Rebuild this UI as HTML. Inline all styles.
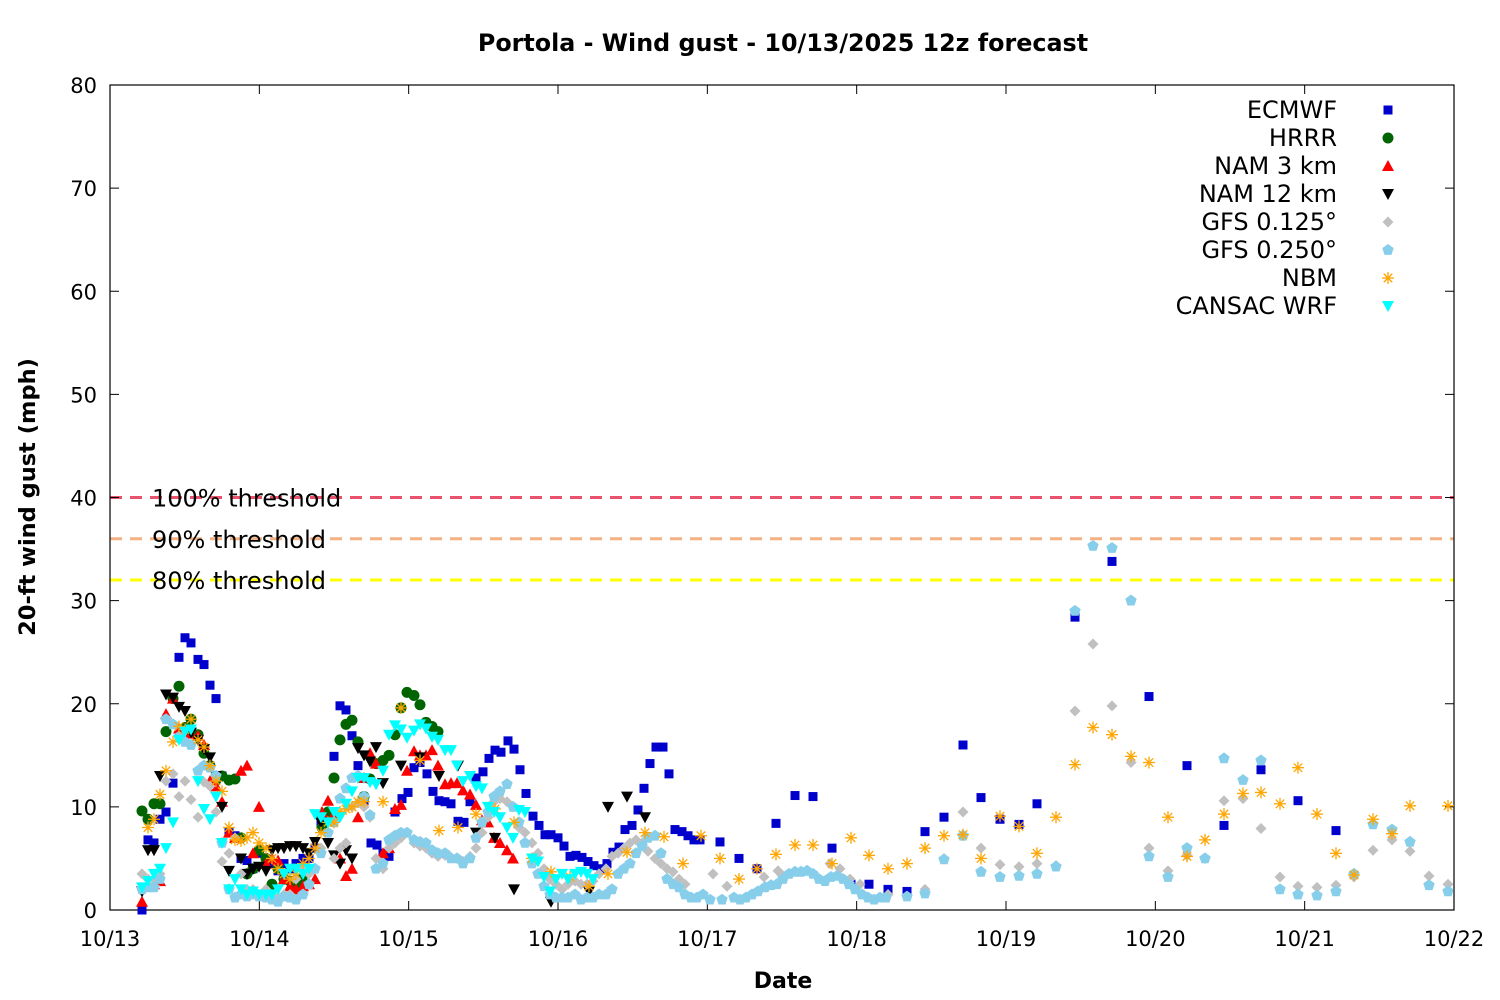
<!DOCTYPE html>
<html><head><meta charset="utf-8"><style>
html,body{margin:0;padding:0;background:#fff;}
svg{display:block;font-family:"Liberation Sans","DejaVu Sans",sans-serif;}
</style></head><body>
<svg id="s" width="1500" height="1000" xmlns="http://www.w3.org/2000/svg">
<rect width="1500" height="1000" fill="#fff"/>
<text x="783" y="51" text-anchor="middle" font-size="23.8" font-weight="bold" font-family="DejaVu Sans, sans-serif">Portola - Wind gust - 10/13/2025 12z forecast</text>
<text transform="translate(35,497) rotate(-90)" text-anchor="middle" font-size="22.5" font-weight="bold" font-family="DejaVu Sans, sans-serif">20-ft wind gust (mph)</text>
<text x="783" y="988" text-anchor="middle" font-size="22" font-weight="bold" font-family="DejaVu Sans, sans-serif">Date</text>
<g id="g"></g>
</svg>
<script>
const NS="http://www.w3.org/2000/svg",g=document.getElementById('g');
function el(t,a,txt){const e=document.createElementNS(NS,t);for(const k in a)e.setAttribute(k,a[k]);if(txt!==undefined)e.textContent=txt;g.appendChild(e);return e;}
const X0=110,X1=1454,Y0=910,Y1=85;const Y=v=>Y0-v*(Y0-Y1)/80;
[[40,'#e8536b'],[36,'#f4b183'],[32,'#ffff00']].forEach(([v,c])=>el('line',{x1:X0,x2:X1,y1:Y(v),y2:Y(v),stroke:c,'stroke-width':3,'stroke-dasharray':'12,8'}));
[['100% threshold',40],['90% threshold',36],['80% threshold',32]].forEach(([t,v])=>el('text',{x:152,y:Y(v)+9,'font-size':24,'font-family':'DejaVu Sans, sans-serif'},t));
el('rect',{x:X0,y:Y1,width:X1-X0,height:Y0-Y1,fill:'none',stroke:'#000','stroke-width':1.2});
for(let v=0;v<=80;v+=10){const y=Y(v);el('line',{x1:X0,x2:X0+9,y1:y,y2:y,stroke:'#000'});el('line',{x1:X1,x2:X1-9,y1:y,y2:y,stroke:'#000'});
el('text',{x:97,y:y+8,'text-anchor':'end','font-size':21,'font-family':'DejaVu Sans, sans-serif'},v);}
const days=['10/13','10/14','10/15','10/16','10/17','10/18','10/19','10/20','10/21','10/22'];
days.forEach((d,i)=>{const x=X0+i*(X1-X0)/9;el('line',{x1:x,x2:x,y1:Y0,y2:Y0-9,stroke:'#000'});el('line',{x1:x,x2:x,y1:Y1,y2:Y1+9,stroke:'#000'});
el('text',{x:x,y:946,'text-anchor':'middle','font-size':21,'font-family':'DejaVu Sans, sans-serif'},d);});
function mk(type,c,x,y){
 if(type=='sq')el('rect',{x:x-4.5,y:y-4.5,width:9,height:9,fill:c});
 else if(type=='ci')el('circle',{cx:x,cy:y,r:5.5,fill:c});
 else if(type=='up')el('polygon',{points:`${x},${y-6} ${x-6},${y+5} ${x+6},${y+5}`,fill:c});
 else if(type=='dn')el('polygon',{points:`${x},${y+6} ${x-6},${y-5} ${x+6},${y-5}`,fill:c});
 else if(type=='di')el('polygon',{points:`${x},${y-5.5} ${x+5.5},${y} ${x},${y+5.5} ${x-5.5},${y}`,fill:c});
 else if(type=='pe'){let p=[];for(let i=0;i<5;i++){const a=-Math.PI/2+i*2*Math.PI/5;p.push((x+6*Math.cos(a)).toFixed(1)+','+(y+6*Math.sin(a)).toFixed(1));}el('polygon',{points:p.join(' '),fill:c});}
 else if(type=='as'){for(let i=0;i<4;i++){const a=i*Math.PI/4;el('line',{x1:x-6*Math.cos(a),y1:y-6*Math.sin(a),x2:x+6*Math.cos(a),y2:y+6*Math.sin(a),stroke:c,'stroke-width':1.3});}}
}
function P(s){return s.split(' ').map(t=>t.split(',').map(Number));}
const S=[
['sq','#0000cc',"142,0 148,6.8 154,6.5 160,8.8 166,9.5 173,12.3 179,24.5 185,26.4 191,25.9 198,24.3 204,23.8 210,21.8 216,20.5 222,13 229,7.5 235,7.2 241,5 247,4.8 253,4 259,5.5 266,4.8 272,4.5 278,3.8 284,4.5 290,4 296,4.5 303,5 309,5 315,6 321,8.5 327,9.2 334,14.9 340,19.8 346,19.4 352,16.9 358,14 364,10.5 371,6.5 377,6.3 383,5.5 389,5.2 395,9.5 402,10.8 408,11.4 414,13.8 420,14.3 427,13.2 433,11.5 439,10.6 445,10.5 451,10.3 458,8.6 464,8.5 470,10.5 476,12.8 483,13.4 489,14.7 495,15.5 501,15.3 508,16.4 514,15.6 520,13.6 526,11.3 533,9.1 539,8.2 545,7.3 551,7.3 558,7 564,6.2 570,5.2 576,5.3 582,5.1 588,4.7 594,4.3 601,4 607,4.5 613,5.6 619,6.1 625,7.8 632,8.2 638,9.7 644,11.8 650,14.2 656,15.8 663,15.8 669,13.2 675,7.8 682,7.6 688,7.2 694,6.8 700,6.8 720,6.6 739,5 757,4 776,8.4 795,11.1 813,11 832,6 851,2.5 869,2.5 888,2 907,1.8 925,7.6 944,9 963,16 981,10.9 1000,8.8 1019,8.3 1037,10.3 1075,28.4 1112,33.8 1149,20.7 1187,14 1224,8.2 1261,13.6 1298,10.6 1336,7.7"],
['ci','#006400',"142,9.6 148,8.8 154,10.3 160,10.3 166,17.3 173,20.5 179,21.7 185,17.7 191,18.5 198,17 204,15.2 210,14 216,12.6 222,13 229,12.6 235,12.7 241,7 247,3.5 253,4 259,5.8 266,5 272,2.5 278,4 284,3 290,2.8 296,2.5 302,3 322,8 328,9.5 334,12.8 340,16.5 346,18 352,18.4 358,16.3 364,11 370,12.7 376,14.2 383,14.5 389,15 395,17 401,19.6 407,21.1 414,20.8 420,19.9 426,18.2 432,17.8 438,17.3"],
['up','#ff0000',"142,0.8 148,2.5 154,2.5 160,2.8 166,19 173,20.5 179,17.6 185,17.3 191,17.1 198,16.9 204,16 210,12.5 216,12 222,10.5 229,7.5 235,7 241,13.5 247,14 253,5.5 259,10 266,4.5 272,5 278,4.8 284,3 290,2.3 296,2 303,2.3 309,2.5 315,3 322,9.5 328,10.6 334,9.3 340,5 346,3.3 352,4 358,9 364,12.8 370,15.2 376,14.2 383,5.5 389,6 395,9.8 401,10.2 407,13.5 414,15.4 420,15 426,15 432,15.5 438,14 445,12.2 451,12.3 457,12.3 463,11.6 470,11.2 476,10.2 482,8.7 488,8.5 494,7 500,6.5 507,5.8 513,5"],
['dn','#000000',"142,1.8 148,5.8 154,5.8 160,13 166,20.9 173,20.6 179,19.7 185,19.3 191,17.2 198,16.5 204,15.6 210,14.8 216,13 222,10 229,3.8 241,5 247,3.5 253,4 259,4.2 266,3.8 272,5.8 278,6 284,6 290,6.2 296,6.2 303,6 309,5.5 315,6.6 321,8.5 328,6.5 334,5.3 340,4.5 346,5.8 352,5 358,15.7 364,15 370,14.4 376,15.8 383,12.3 401,14 420,14.8 439,13 458,14 476,7.5 495,7 514,2 551,0.8 589,1.8 608,10 627,11 645,9"],
['di','#c0c0c0',"142,3.5 148,3 154,3 160,3.5 166,12.5 173,13.2 179,11 185,12.5 191,10.7 198,9 204,12.4 210,12 216,9.5 222,4.7 229,5.5 235,7 241,3.5 247,2 253,2 259,1.5 266,2 272,1.5 278,1.2 284,1.5 290,1.5 296,3 303,4 309,3.5 315,4 321,6 328,7.5 334,5 340,6 346,6.5 352,10 358,10.4 364,10 370,9 376,5 383,4 389,6 395,6.5 401,7 407,7.5 414,6.5 420,6.2 426,6 432,5.5 438,5.2 445,5.3 451,5.1 457,5 463,4.7 470,5.2 476,6 482,7.5 488,9 494,10.5 500,10.8 507,10.5 513,10 519,8 525,7.5 532,6.5 538,5.5 544,4 550,3 556,2.5 562,2 568,2.5 575,2.8 581,2.5 587,2.5 593,2.8 599,3.5 606,4 612,5.2 618,5.5 624,6 630,6.5 636,6.8 642,6.5 648,5.7 655,5 661,4.5 667,4 673,3.7 679,3 685,2.5 713,3.5 727,2.3 764,3.2 778,3.8 782,3.4 830,4.5 840,4 850,3 860,2.5 888,1.5 925,2 944,5 963,9.5 981,6 1000,4.4 1019,4.2 1037,4.5 1056,4.3 1075,19.3 1093,25.8 1112,19.8 1131,14.3 1149,6 1168,3.8 1187,5.3 1205,5 1224,10.6 1243,10.8 1261,7.9 1280,3.2 1298,2.3 1317,2.2 1336,2.4 1354,3.2 1373,5.8 1392,6.8 1410,5.7 1429,3.3 1448,2.5"],
['pe','#87ceeb',"142,2 148,2.2 154,2.2 160,3 166,18.5 173,18 179,16.8 185,16.3 191,16 198,13.5 204,14 210,13.8 216,13 222,6.5 229,2 235,1.2 241,1.5 247,1.3 253,1.5 259,1.3 266,1.2 272,1 278,0.8 284,1.3 290,1.2 296,1 303,1.5 309,2.5 315,4 321,5.5 328,7.5 334,8.5 340,10.8 346,11.8 352,12.8 358,13 364,11 370,9.2 376,4 383,4.5 389,6.8 395,7.2 401,7.5 407,7.5 414,6.8 420,6.6 426,6.5 432,5.8 438,5.5 445,5.5 451,5 457,5 463,4.5 470,5 476,7 482,8.5 488,9.5 494,11 500,11.5 507,12.2 513,10 519,8.5 525,6.5 532,4.5 538,3.5 544,2.3 550,1.5 556,1.2 562,1.2 568,1.2 575,1.5 581,1 587,1.2 593,1.2 599,1.5 606,1.5 612,2 618,3.5 624,4 630,4.5 636,5.5 642,6.2 648,7 655,7.2 661,5.5 667,3 673,2.5 679,2.2 685,1.5 691,1.2 697,1.2 703,1.5 710,1 722,1 734,1.2 740,1 746,1.2 752,1.5 758,1.8 765,2.2 771,2.4 777,2.5 783,3 789,3.5 795,3.7 801,3.7 807,3.8 813,3.5 819,3 825,2.8 831,3.2 837,3.3 843,3 849,2.5 855,2 862,1.5 868,1.2 874,1 880,1.2 886,1.2 907,1.3 925,1.6 944,4.9 963,7.2 981,3.7 1000,3.2 1019,3.3 1037,3.5 1056,4.2 1075,29 1093,35.3 1112,35.1 1131,30 1149,5.2 1168,3.2 1187,6 1205,5 1224,14.7 1243,12.6 1261,14.5 1280,2 1298,1.5 1317,1.4 1336,1.8 1354,3.5 1373,8.3 1392,7.8 1410,6.6 1429,2.4 1448,1.8"],
['as','#ffa500',"148,8 154,8.8 160,11.2 166,13.5 173,16.3 179,17.8 185,17.5 191,18.5 198,16.5 204,15.8 210,14 216,12.5 222,11.5 229,8 235,6.8 241,6.7 247,7 253,7.5 259,6.5 266,6 272,5 278,4 284,3.5 290,3 296,3.5 303,4.5 309,5 315,6 321,7.5 328,8.5 334,8.5 340,9.5 346,9.8 352,10 358,10.5 364,10.5 383,10.5 401,19.6 420,14.5 439,7.7 458,8 476,9.3 495,9.8 514,8.5 532,5 551,3.7 570,3.2 589,2.3 608,3.5 627,5.6 645,7.5 664,7.1 683,4.5 701,7.2 720,5 739,3 757,4 776,5.4 795,6.3 813,6.3 832,4.5 851,7 869,5.3 888,4 907,4.5 925,6 944,7.2 963,7.3 981,5 1000,9.1 1019,8.1 1037,5.5 1056,9 1075,14.1 1093,17.7 1112,17 1131,14.9 1149,14.3 1168,9 1187,5.2 1205,6.8 1224,9.3 1243,11.3 1261,11.4 1280,10.3 1298,13.8 1317,9.3 1336,5.5 1354,3.4 1373,8.8 1392,7.4 1410,10.1 1448,10.1"],
['dn','#00ffff',"142,2.2 148,2.8 154,3.5 160,4 166,6 173,8.5 179,16.5 185,17.3 191,17.5 198,12.5 204,9.8 210,8.8 216,11 222,6.5 229,2 235,3 241,2 247,1.5 253,1.8 259,1.5 266,1.5 272,1.5 278,2 284,3.5 290,4 296,4 303,3.5 309,4 315,9.3 321,9 328,8.5 334,9.5 340,9 346,10.3 352,11.5 358,12.8 364,12.8 370,12.4 376,12.2 383,13.5 389,17 395,17.9 401,17.5 407,16.7 414,17.4 420,18 426,17.6 432,16.8 438,16.5 445,15.5 451,15.5 457,14 463,12.5 470,13 476,12 482,11.8 488,10 494,9.5 500,9 507,8 513,7 519,9.7 525,9.5 532,5 538,4.7 544,3.2 550,1.8 556,3 562,3.5 568,3 575,3.5 581,3.7 587,3.5 593,3"]
];
S.forEach(([t,c,d])=>P(d).forEach(([x,v])=>mk(t,c,x,Y(v))));
const L=['ECMWF','HRRR','NAM 3 km','NAM 12 km','GFS 0.125°','GFS 0.250°','NBM','CANSAC WRF'];
L.forEach((n,i)=>{const y=110+i*28;el('text',{x:1337,y:y+8,'text-anchor':'end','font-size':24,'font-family':'DejaVu Sans, sans-serif'},n);mk(S[i][0],S[i][1],1388,y);});
</script>
</body></html>
